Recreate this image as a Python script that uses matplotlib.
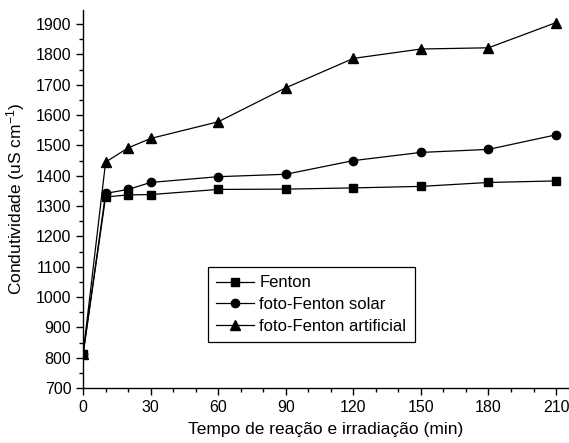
import matplotlib
matplotlib.use("Agg")
import matplotlib.pyplot as plt
from matplotlib.ticker import MultipleLocator

plt.rcParams['font.family'] = ['Liberation Sans', 'DejaVu Sans']
plt.rcParams['mathtext.default'] = 'regular'

# tempo (min)
tempo = [0, 10, 20, 30, 60, 90, 120, 150, 180, 210]

# condutividade (uS/cm)
fenton = [812, 1330, 1337, 1338, 1355, 1356, 1360, 1365, 1378, 1383]
foto_solar = [812, 1342, 1355, 1378, 1397, 1405, 1450, 1477, 1487, 1535]
foto_artificial = [812, 1445, 1492, 1523, 1578, 1690, 1787, 1818, 1822, 1905]

fig = plt.figure(figsize=(5.69, 4.43), dpi=100)
ax = fig.add_axes([0.146, 0.124, 0.853, 0.853])

ax.plot(tempo, fenton, '-s', color='black', lw=0.9, ms=5.5, label='Fenton')
ax.plot(tempo, foto_solar, '-o', color='black', lw=0.9, ms=6, label='foto-Fenton solar')
ax.plot(tempo, foto_artificial, '-^', color='black', lw=0.9, ms=7, label='foto-Fenton artificial')

ax.set_xlim(0, 215.5)
ax.set_ylim(700, 1946)
ax.xaxis.set_major_locator(MultipleLocator(30))
ax.xaxis.set_minor_locator(MultipleLocator(10))
ax.yaxis.set_major_locator(MultipleLocator(100))
ax.yaxis.set_minor_locator(MultipleLocator(50))

for s in ['top', 'right']:
    ax.spines[s].set_visible(False)
ax.spines['left'].set_linewidth(1.0)
ax.spines['bottom'].set_linewidth(1.0)
ax.tick_params(which='major', direction='out', length=5, width=1, labelsize=11.5)
ax.tick_params(which='minor', direction='out', length=3, width=1)

ax.set_xlabel('Tempo de reação e irradiação (min)', fontsize=12.5, labelpad=5)
ax.set_ylabel('Condutividade (uS cm$^{-1}$)', fontsize=12.5, labelpad=6)

leg = ax.legend(loc='upper left', bbox_to_anchor=(0.257, 0.32), fontsize=12,
                frameon=True, fancybox=False, edgecolor='black', framealpha=1,
                handlelength=2.3, borderpad=0.5, labelspacing=0.4, handletextpad=0.3,
                borderaxespad=0)
leg.get_frame().set_linewidth(0.9)

fig.savefig('out.png', dpi=100)
